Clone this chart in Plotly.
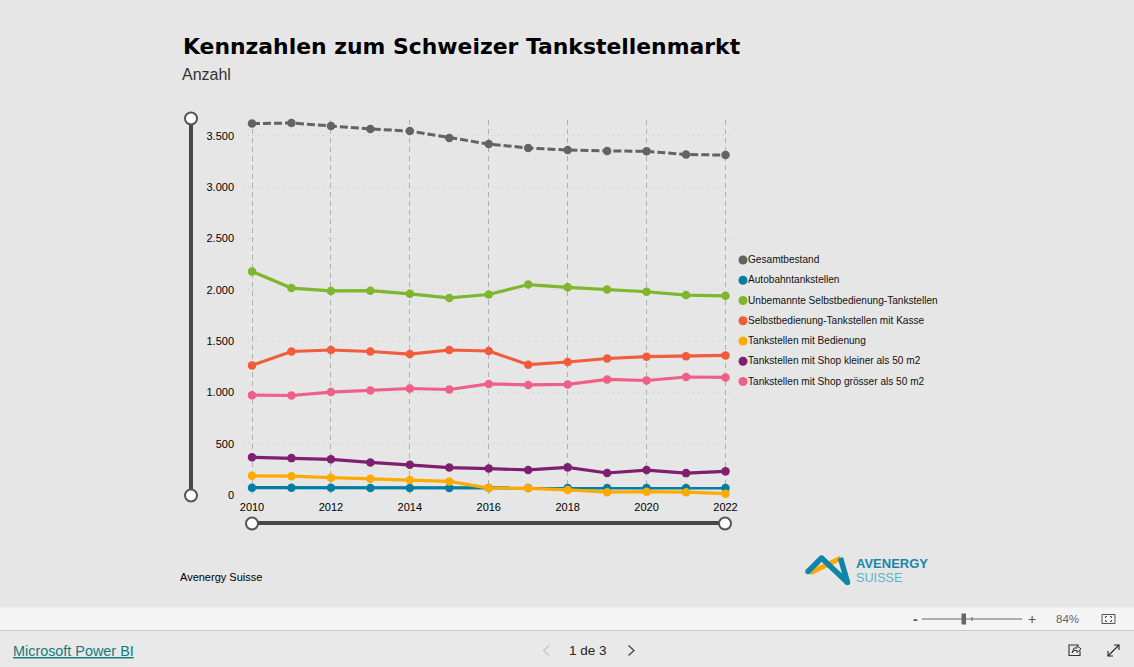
import plotly.graph_objects as go

years = list(range(2010, 2023))
gesamt = [3620, 3625, 3596, 3567, 3547, 3480, 3420, 3382, 3362, 3353, 3350, 3318, 3313]
autobahn = [74, 74, 74, 70, 72, 72, 72, 72, 72, 70, 72, 72, 72]
unbemannt = [2180, 2018, 1990, 1992, 1962, 1922, 1955, 2052, 2025, 2005, 1982, 1950, 1942]
kasse = [1265, 1400, 1415, 1400, 1375, 1415, 1405, 1272, 1298, 1332, 1350, 1355, 1362]
bedienung = [190, 186, 172, 162, 148, 135, 70, 68, 52, 30, 35, 30, 16]
shop_klein = [370, 362, 350, 320, 298, 270, 260, 247, 272, 217, 246, 216, 233]
shop_gross = [975, 972, 1005, 1020, 1040, 1030, 1084, 1075, 1080, 1128, 1118, 1152, 1148]

names = ["Gesamtbestand", "Autobahntankstellen", "Unbemannte Selbstbedienung-Tankstellen",
         "Selbstbedienung-Tankstellen mit Kasse", "Tankstellen mit Bedienung",
         "Tankstellen mit Shop kleiner als 50 m2", "Tankstellen mit Shop grösser als 50 m2"]
values = [gesamt, autobahn, unbemannt, kasse, bedienung, shop_klein, shop_gross]
colors = ["#636363", "#007FA3", "#7FB62D", "#F15C3C", "#FFAA00", "#7E1F6F", "#EE6088"]

W, H = 1134, 667
L, R, T, B = 243, 730, 120, 496
PXY = 39.46
PXV = 0.1027
FONT = "Liberation Sans, Arial, sans-serif"
def fx(p): return (p - L) / (R - L)
def fy(p): return 1 - (p - T) / (B - T)

fig = go.Figure()
for n, v, c in zip(names, values, colors):
    fig.add_trace(go.Scatter(
        x=years, y=v, name=n, mode="lines+markers",
        line=dict(color=c, width=3.2 if n != names[0] else 3, dash="8px,3px" if n == names[0] else "solid"),
        marker=dict(color=c, size=8.5), cliponaxis=False, showlegend=False))

shapes, ann = [], []
def line(x0, y0, x1, y1, color, w=1):
    shapes.append(dict(type="line", xref="paper", yref="paper", x0=fx(x0), y0=fy(y0), x1=fx(x1), y1=fy(y1),
                       line=dict(color=color, width=w), layer="above"))
def rect(x0, y0, x1, y1, fill, lc=None, w=0):
    shapes.append(dict(type="rect", xref="paper", yref="paper", x0=fx(x0), y0=fy(y0), x1=fx(x1), y1=fy(y1),
                       fillcolor=fill, line=dict(color=lc or fill, width=w), layer="below"))
def circle(x, y, r, fill, lc=None, w=0):
    shapes.append(dict(type="circle", xref="paper", yref="paper", x0=fx(x - r), y0=fy(y - r), x1=fx(x + r), y1=fy(y + r),
                       fillcolor=fill, line=dict(color=lc or fill, width=w), layer="above"))
def poly(pts, color, w):
    d = "M" + " L".join(f"{fx(a):.5f},{fy(b):.5f}" for a, b in pts)
    shapes.append(dict(type="path", xref="paper", yref="paper", path=d,
                       line=dict(color=color, width=w), layer="above"))
def text(x, y, s, size, color="#000000", anchor="left", family=FONT):
    ann.append(dict(xref="paper", yref="paper", x=fx(x), y=fy(y), text=s, showarrow=False, xanchor=anchor,
                    yanchor="middle", xshift=0, font=dict(size=size, color=color, family=family), borderpad=0, borderwidth=0))

# footer
rect(0, 608, W, 630, "#F4F4F4")
line(0, 607.5, W, 607.5, "#EDEDED", 1)
line(0, 630.5, W, 630.5, "#C9C9C9", 1)
rect(0, 631, W, H, "#E9E9E9")

# sliders
line(191, 118, 191, 495, "#484848", 4)
line(252, 523, 725, 523, "#484848", 4)
for x, y in [(191, 118.5), (191, 495.5), (252, 523.5), (725, 523.5)]:
    circle(x, y, 6, "#FFFFFF", "#555555", 2)

# legend
for i, (n, c) in enumerate(zip(names, colors)):
    y = 260 + i * 20.25
    circle(743, y, 4.5, c)
    text(748.3, y - 0.5, n, 10.1, "#111111")

# titles
text(183, 46.5, "<b>Kennzahlen zum Schweizer Tankstellenmarkt</b>", 21.9, "#000000", family="DejaVu Sans, sans-serif")
text(182, 75, "Anzahl", 16, "#333333")
text(180, 577, "Avenergy Suisse", 11, "#000000")

# logo
line(810, 573, 841, 558, "#FFAA00", 5)
logo = [(808, 571.5), (821.5, 558), (847.5, 582.5), (840.5, 558)]
for (a, b), (c, d) in zip(logo, logo[1:]):
    line(a, b, c, d, "#0F85A8", 5.5)
for x, y in logo[:3]:
    circle(x, y, 2.75, "#0F85A8")
text(856, 563.5, "<b>AVENERGY</b>", 13, "#1587A8")
text(856, 578, "SUISSE", 12.7, "#5DB2CB")

# bottom bars
text(13, 651, "<u>Microsoft Power BI</u>", 14.4, "#117C7C")
text(588, 650.5, "1 de 3", 13.5, "#252423", "center")
poly([(549, 645.5), (543.5, 650.5), (549, 655.5)], "#C4C4C4", 1.3)
poly([(628.5, 645.5), (634, 650.5), (628.5, 655.5)], "#444444", 1.3)
text(915, 619, "<b>-</b>", 14, "#555555", "center")
line(922, 619, 1022, 619, "#666666", 1)
rect(961.5, 613.5, 966, 624.5, "#666666")
shapes[-1]["layer"] = "above"
line(972, 617, 972, 621, "#666666", 1)
text(1032, 619, "+", 14, "#555555", "center")
text(1067, 619, "84%", 11.5, "#666666", "center")
poly([(1102, 617), (1102, 614.5), (1115, 614.5), (1115, 623.5), (1102, 623.5), (1102, 617)], "#555555", 1)
poly([(1105.5, 618), (1105.5, 616.5), (1107, 616.5)], "#555555", 1)
poly([(1110, 616.5), (1111.5, 616.5), (1111.5, 618)], "#555555", 1)
poly([(1105.5, 620), (1105.5, 621.5), (1107, 621.5)], "#555555", 1)
poly([(1110, 621.5), (1111.5, 621.5), (1111.5, 620)], "#555555", 1)
poly([(1079, 645), (1069, 645), (1069, 655.5), (1080, 655.5), (1080, 651)], "#333333", 1.1)
poly([(1072, 653), (1074, 648), (1077, 648), (1077, 645.5), (1081, 649), (1077, 652.5), (1077, 650.5), (1074, 650.5), (1072, 653)], "#333333", 1)
poly([(1108, 656), (1119, 645)], "#222222", 1.1)
poly([(1114, 645), (1119, 645), (1119, 650)], "#222222", 1.1)
poly([(1108, 651), (1108, 656), (1113, 656)], "#222222", 1.1)

fig.update_layout(
    width=W, height=H, autosize=False, showlegend=False,
    paper_bgcolor="#E6E6E6", plot_bgcolor="#E6E6E6",
    margin=dict(l=L, r=W - R, t=T, b=H - B, pad=0),
    separators=",.", shapes=shapes, annotations=ann,
    font=dict(family=FONT, size=11, color="#000000"),
    xaxis=dict(range=[2010 - (252 - L) / PXY, 2022 + (R - 725.5) / PXY], tick0=2010, dtick=2, tickformat="d",
               showgrid=True, gridcolor="#B0B0B0", griddash="5px,4px", gridwidth=1, zeroline=False, showline=False,
               ticks="", ticklabelstandoff=3, tickfont=dict(size=11, color="#000000")),
    yaxis=dict(range=[-(B - 495.3) / PXV, (495.3 - T) / PXV], tickvals=[0, 500, 1000, 1500, 2000, 2500, 3000, 3500],
               tickformat=",d", showgrid=True, gridcolor="#CECECE", griddash="1px,4px", gridwidth=1, zeroline=False,
               showline=False, ticks="", ticklabelstandoff=8, tickfont=dict(size=11, color="#000000")),
)
fig.write_html("out.html", config=dict(displayModeBar=False),
               post_script="document.body.style.margin='0';document.body.style.overflow='hidden';")
